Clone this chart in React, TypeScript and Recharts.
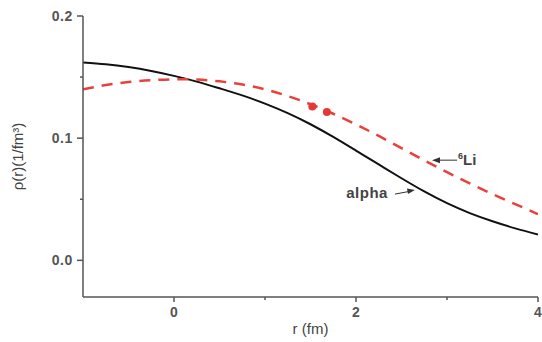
import React from "react";
import {
  ComposedChart,
  Line,
  Scatter,
  XAxis,
  YAxis,
  ReferenceDot,
} from "recharts";

const rValues = [-1, -0.75, -0.5, -0.25, 0, 0.25, 0.5, 0.75, 1, 1.25, 1.5, 1.75, 2, 2.25, 2.5, 2.75, 3, 3.25, 3.5, 3.75, 4];
const alphaValues = [0.162, 0.1605, 0.1582, 0.155, 0.151, 0.1463, 0.1408, 0.135, 0.1283, 0.1205, 0.1114, 0.101, 0.0898, 0.0785, 0.0672, 0.0564, 0.0468, 0.0387, 0.032, 0.0262, 0.0212];
const li6Values = [0.14, 0.1435, 0.146, 0.1475, 0.1482, 0.148, 0.1465, 0.144, 0.14, 0.1345, 0.1278, 0.12, 0.1113, 0.1018, 0.0918, 0.0818, 0.0722, 0.063, 0.0542, 0.046, 0.0378];
const dotR = [1.52, 1.68];
const dotV = [0.126, 0.1215];

const xTicks = [-1, 0, 1, 2, 3, 4];
const xLabels = [0, 2, 4];
const yTicks = [0, 0.05, 0.1, 0.15, 0.2];
const yLabels = [0, 0.1, 0.2];

const lineData = rValues.map((r, i) => ({ r, alpha: alphaValues[i], li6: li6Values[i] }));
const dotData = dotR.map((r, i) => ({ r, v: dotV[i] }));

const FONT = "'Liberation Sans', Arial, sans-serif";
const AXIS = "#555";
const TEXT = "#555";

const YTick = (props: any) => {
  const { x, y, payload } = props;
  const major = yLabels.includes(payload.value);
  return (
    <g>
      <line x1={x - (major ? 6 : 3)} y1={y} x2={x} y2={y} stroke={AXIS} strokeWidth={1.5} />
      {major && (
        <text x={x - 10} y={y + 5} textAnchor="end" fontSize={14} fontWeight="bold" fill={TEXT} fontFamily={FONT} letterSpacing={0.6}>
          {payload.value.toFixed(1)}
        </text>
      )}
    </g>
  );
};

const XTick = (props: any) => {
  const { x, y, payload } = props;
  const major = xLabels.includes(payload.value);
  if (payload.value === -1) return <g />;
  return (
    <g>
      <line x1={x} y1={y} x2={x} y2={y + (major ? 5 : 3)} stroke={AXIS} strokeWidth={1.5} />
      {major && (
        <text x={x} y={y + 20} textAnchor="middle" fontSize={14} fontWeight="bold" fill={TEXT} fontFamily={FONT}>
          {payload.value}
        </text>
      )}
    </g>
  );
};

const LiLabel = (props: any) => {
  const { cx, cy } = props;
  return (
    <g>
      <line x1={cx + 4} y1={cy} x2={cx + 25} y2={cy} stroke="#333" strokeWidth={1} />
      <path d={`M${cx},${cy} L${cx + 8},${cy - 3} L${cx + 8},${cy + 3} Z`} fill="#333" />
      <text x={cx + 26} y={cy + 5} fontSize={15} fontWeight="bold" fill="#444" fontFamily={FONT}>
        <tspan fontSize={9} dy={-6}>6</tspan>
        <tspan dy={6}>Li</tspan>
      </text>
    </g>
  );
};

const AlphaLabel = (props: any) => {
  const { cx, cy } = props;
  return (
    <g>
      <line x1={cx - 20} y1={cy + 4} x2={cx - 4} y2={cy + 1} stroke="#333" strokeWidth={1} />
      <path d={`M${cx},${cy} L${cx - 8},${cy - 1.5} L${cx - 7},${cy + 4} Z`} fill="#333" />
      <text x={cx - 27} y={cy + 8} textAnchor="end" fontSize={15} fontWeight="bold" fill="#444" fontFamily={FONT} letterSpacing={0.5}>
        alpha
      </text>
    </g>
  );
};

const RedDot = (props: any) => {
  const { cx, cy } = props;
  return <circle cx={cx} cy={cy} r={4} fill="#e53935" />;
};

export default function App() {
  return (
    <div style={{ position: "absolute", left: 0, top: 0, background: "#fff" }}>
      <ComposedChart
        width={542}
        height={342}
        data={lineData}
        margin={{ top: 16, right: 4, bottom: 0, left: 0 }}
      >
        <XAxis
          dataKey="r"
          type="number"
          domain={[-1, 4]}
          ticks={xTicks}
          allowDataOverflow
          height={45}
          stroke={AXIS}
          strokeWidth={1.5}
          tickLine={false}
          tickSize={0}
          tickMargin={0}
          tick={<XTick />}
          interval={0}
          label={{
            value: "r (fm)",
            position: "insideBottom",
            offset: 8,
            fontSize: 15,
            fill: "#444",
            fontFamily: FONT,
          }}
        />
        <YAxis
          type="number"
          domain={[-0.03, 0.2]}
          ticks={yTicks}
          allowDataOverflow
          width={83}
          stroke={AXIS}
          strokeWidth={1.5}
          tickLine={false}
          tickSize={0}
          tickMargin={0}
          tick={<YTick />}
          interval={0}
          label={{
            value: "ρ(r)(1/fm³)",
            angle: -90,
            position: "insideLeft",
            offset: 18,
            style: { textAnchor: "middle" },
            fontSize: 15,
            fill: "#444",
            fontFamily: FONT,
          }}
        />
        <Line
          dataKey="alpha"
          type="natural"
          stroke="#111"
          strokeWidth={2}
          dot={false}
          isAnimationActive={false}
        />
        <Line
          dataKey="li6"
          type="natural"
          stroke="#e8413c"
          strokeWidth={2.5}
          strokeDasharray="11 8"
          dot={false}
          isAnimationActive={false}
        />
        <Scatter data={dotData} dataKey="v" shape={<RedDot />} isAnimationActive={false} />
        <ReferenceDot x={2.835} y={0.082} ifOverflow="visible" shape={<LiLabel />} />
        <ReferenceDot x={2.648} y={0.0575} ifOverflow="visible" shape={<AlphaLabel />} />
      </ComposedChart>
    </div>
  );
}
